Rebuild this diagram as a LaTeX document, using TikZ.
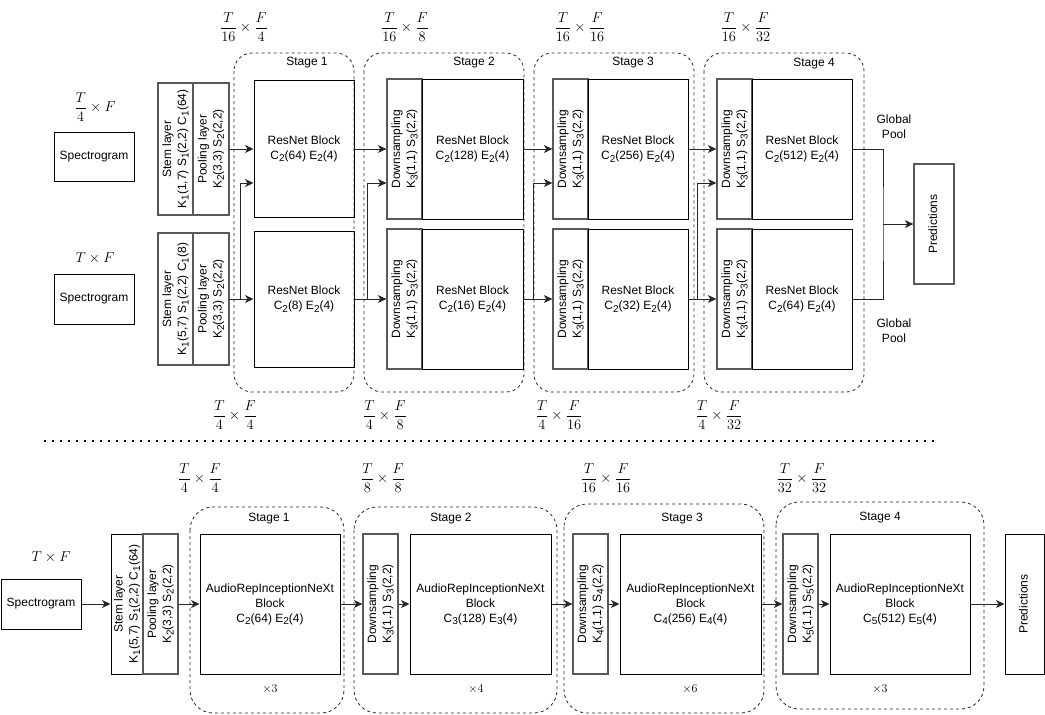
\documentclass[tikz,border=0pt]{standalone}
\usepackage[no-math]{fontspec}
\setmainfont{Liberation Sans}
\usepackage{graphicx}
\usetikzlibrary{arrows.meta,calc}
\newcommand{\sbx}[1]{\raisebox{-2.6pt}{\fontsize{10}{10}\selectfont #1}}
\newcommand{\vtxt}[1]{\rotatebox{90}{\begin{tabular}{@{}c@{}}#1\end{tabular}}}
\begin{document}
\begin{tikzpicture}[x=1pt,y=-1pt,
  font=\fontsize{12}{15}\selectfont,
  box/.style={draw=black, line width=1pt, inner sep=0pt, align=center},
  gbox/.style={draw=black!65, line width=1.3pt, inner sep=0pt, align=center},
  stagebox/.style={draw=black!85, line width=0.8pt, dash pattern=on 3pt off 3pt, rounded corners=18pt},
  stageboxb/.style={stagebox, rounded corners=23pt},
  arr/.style={-{Stealth[length=8.5pt,width=8pt,inset=2.5pt]}, line width=1pt, draw=black!85},
  ln/.style={line width=1pt, draw=black!85},
  mlab/.style={inner sep=0pt, font=\fontsize{15}{18}\selectfont},
  txt/.style={inner sep=0pt, align=center}
]
\useasboundingbox (0,0) rectangle (1045,715);

% ---------------- TOP ----------------
\draw[stagebox] (234,53) rectangle (354,392);
\draw[stagebox] (364,53) rectangle (524,392);
\draw[stagebox] (534,53) rectangle (694,392);
\draw[stagebox] (704,53) rectangle (864,392);
\node[txt] (st1) at (307,63) {Stage 1};
\node[txt] (st2) at (474,63) {Stage 2};
\node[txt] (st3) at (633,63) {Stage 3};
\node[txt] (st4) at (814,64) {Stage 4};

\node[mlab] (in1) at (95,107) {$\displaystyle\frac{T}{4}\times F$};
\node[mlab] (in2) at (95,258) {$T\times F$};
\node[mlab] (ta1) at (244,27) {$\displaystyle\frac{T}{16}\times\frac{F}{4}$};
\node[mlab] (ta2) at (405,27) {$\displaystyle\frac{T}{16}\times\frac{F}{8}$};
\node[mlab] (ta3) at (580,27) {$\displaystyle\frac{T}{16}\times\frac{F}{16}$};
\node[mlab] (ta4) at (746,27) {$\displaystyle\frac{T}{16}\times\frac{F}{32}$};
\node[mlab] (tb1) at (235,415) {$\displaystyle\frac{T}{4}\times\frac{F}{4}$};
\node[mlab] (tb2) at (385,415) {$\displaystyle\frac{T}{4}\times\frac{F}{8}$};
\node[mlab] (tb3) at (559,415) {$\displaystyle\frac{T}{4}\times\frac{F}{16}$};
\node[mlab] (tb4) at (719,415) {$\displaystyle\frac{T}{4}\times\frac{F}{32}$};

\node[box, minimum width=80pt, minimum height=49pt] (spec1) at (94,156.5) {Spectrogram};
\node[box, minimum width=80pt, minimum height=50pt] (spec2) at (94,299) {Spectrogram};

\node[gbox, minimum width=35pt, minimum height=132pt] (stem1) at (175.5,149) {\vtxt{Stem layer\\K\sbx{1}(1,7) S\sbx{1}(2,2) C\sbx{1}(64)}};
\node[gbox, minimum width=36pt, minimum height=132pt] (pool1) at (211,149) {\vtxt{Pooling layer\\K\sbx{2}(3,3) S\sbx{2}(2,2)}};
\node[gbox, minimum width=35pt, minimum height=132pt] (stem2) at (175.5,299) {\vtxt{Stem layer\\K\sbx{1}(5,7) S\sbx{1}(2,2) C\sbx{1}(8)}};
\node[gbox, minimum width=36pt, minimum height=132pt] (pool2) at (211,299) {\vtxt{Pooling layer\\K\sbx{2}(3,3) S\sbx{2}(2,2)}};

\node[box, minimum width=100pt, minimum height=137pt] (r1a) at (304,148.5) {ResNet Block\\C\sbx{2}(64) E\sbx{2}(4)};
\node[box, minimum width=100pt, minimum height=136pt] (r1b) at (304,299) {ResNet Block\\C\sbx{2}(8) E\sbx{2}(4)};

\node[gbox, minimum width=35pt, minimum height=140pt] (d2a) at (404.5,149) {\vtxt{Downsampling\\K\sbx{3}(1,1) S\sbx{3}(2,2)}};
\node[box, minimum width=101pt, minimum height=140pt] (r2a) at (472.5,149) {ResNet Block\\C\sbx{2}(128) E\sbx{2}(4)};
\node[gbox, minimum width=35pt, minimum height=140pt] (d2b) at (404.5,299) {\vtxt{Downsampling\\K\sbx{3}(1,1) S\sbx{3}(2,2)}};
\node[box, minimum width=101pt, minimum height=140pt] (r2b) at (472.5,299) {ResNet Block\\C\sbx{2}(16) E\sbx{2}(4)};

\node[gbox, minimum width=35pt, minimum height=140pt] (d3a) at (570.5,149) {\vtxt{Downsampling\\K\sbx{3}(1,1) S\sbx{3}(2,2)}};
\node[box, minimum width=100pt, minimum height=140pt] (r3a) at (638,149) {ResNet Block\\C\sbx{2}(256) E\sbx{2}(4)};
\node[gbox, minimum width=35pt, minimum height=140pt] (d3b) at (570.5,299) {\vtxt{Downsampling\\K\sbx{3}(1,1) S\sbx{3}(2,2)}};
\node[box, minimum width=100pt, minimum height=140pt] (r3b) at (638,299) {ResNet Block\\C\sbx{2}(32) E\sbx{2}(4)};

\node[gbox, minimum width=35pt, minimum height=140pt] (d4a) at (734.5,149) {\vtxt{Downsampling\\K\sbx{3}(1,1) S\sbx{3}(2,2)}};
\node[box, minimum width=100pt, minimum height=140pt] (r4a) at (802,149) {ResNet Block\\C\sbx{2}(512) E\sbx{2}(4)};
\node[gbox, minimum width=35pt, minimum height=140pt] (d4b) at (734.5,299) {\vtxt{Downsampling\\K\sbx{3}(1,1) S\sbx{3}(2,2)}};
\node[box, minimum width=100pt, minimum height=140pt] (r4b) at (802,299) {ResNet Block\\C\sbx{2}(64) E\sbx{2}(4)};

\node[gbox, minimum width=40pt, minimum height=120pt] (pred1) at (934,224) {\vtxt{Predictions}};
\node[txt] (gp1) at (894,126.5) {Global\\Pool};
\node[txt] (gp2) at (894,331) {Global\\Pool};

\draw[arr] (pool1.east) -- (pool1.east -| r1a.west);
\draw[arr] (pool2.east) -- (pool2.east -| r1b.west);
\coordinate (b1) at (240,299);
\draw[arr] (b1) |- (r1a.west |- 0,183);

\draw[arr] (r1a.east |- 0,149) -- (d2a.west);
\draw[arr] (r1b.east) -- (d2b.west);
\coordinate (b2) at (367,299);
\draw[arr] (b2) |- (d2a.west |- 0,183);

\draw[arr] (r2a.east) -- (d3a.west);
\draw[arr] (r2b.east) -- (d3b.west);
\coordinate (b3) at (533,299);
\draw[arr] (b3) |- (d3a.west |- 0,183);

\draw[arr] (r3a.east) -- (d4a.west);
\draw[arr] (r3b.east) -- (d4b.west);
\coordinate (b4) at (697,299);
\draw[arr] (b4) |- (d4a.west |- 0,183);

\coordinate (gj) at (883,224);
\draw[ln] (r4a.east) -| (gj) |- (r4b.east);
\draw[arr] (gj) -- (pred1.west);

\draw[line width=1.8pt, dash pattern=on 1.8pt off 6.2pt] (44,441) -- (934,441);

% ---------------- BOTTOM ----------------
\draw[stageboxb] (190,507) rectangle (344,713);
\draw[stageboxb] (354,507) rectangle (557,713);
\draw[stageboxb] (564,504) rectangle (764,713);
\draw[stageboxb] (776,502) rectangle (984,709);
\node[txt] (sb1) at (269,519) {Stage 1};
\node[txt] (sb2) at (451,519) {Stage 2};
\node[txt] (sb3) at (682,519) {Stage 3};
\node[txt] (sb4) at (880,518) {Stage 4};
\node[mlab] (rp1) at (270,689) {\fontsize{13}{14}\selectfont$\times3$};
\node[mlab] (rp2) at (476,689) {\fontsize{13}{14}\selectfont$\times4$};
\node[mlab] (rp3) at (690,689) {\fontsize{13}{14}\selectfont$\times6$};
\node[mlab] (rp4) at (880,689) {\fontsize{13}{14}\selectfont$\times3$};

\node[mlab] (inb) at (51,557) {$T\times F$};
\node[mlab] (tc1) at (200,478) {$\displaystyle\frac{T}{4}\times\frac{F}{4}$};
\node[mlab] (tc2) at (383,478) {$\displaystyle\frac{T}{8}\times\frac{F}{8}$};
\node[mlab] (tc3) at (606,478) {$\displaystyle\frac{T}{16}\times\frac{F}{16}$};
\node[mlab] (tc4) at (802,478) {$\displaystyle\frac{T}{32}\times\frac{F}{32}$};

\node[box, minimum width=80pt, minimum height=50pt] (specb) at (41,604) {Spectrogram};
\node[box, minimum width=32pt, minimum height=140pt] (stemb) at (127,604) {\vtxt{Stem layer\\K\sbx{1}(5,7) S\sbx{1}(2,2) C\sbx{1}(64)}};
\node[gbox, minimum width=35pt, minimum height=140pt] (poolb) at (160.5,604) {\vtxt{Pooling layer\\K\sbx{2}(3,3) S\sbx{2}(2,2)}};
\node[box, minimum width=140pt, minimum height=140pt] (bk1) at (270,604) {AudioRepInceptionNeXt\\Block\\C\sbx{2}(64) E\sbx{2}(4)};
\node[gbox, minimum width=35pt, minimum height=140pt] (dsb2) at (380.5,604) {\vtxt{Downsampling\\K\sbx{3}(1,1) S\sbx{3}(2,2)}};
\node[box, minimum width=141pt, minimum height=140pt] (bk2) at (480.5,604) {AudioRepInceptionNeXt\\Block\\C\sbx{3}(128) E\sbx{3}(4)};
\node[gbox, minimum width=35pt, minimum height=140pt] (dsb3) at (590.5,604) {\vtxt{Downsampling\\K\sbx{4}(1,1) S\sbx{4}(2,2)}};
\node[box, minimum width=141pt, minimum height=140pt] (bk3) at (690.5,604) {AudioRepInceptionNeXt\\Block\\C\sbx{4}(256) E\sbx{4}(4)};
\node[gbox, minimum width=35pt, minimum height=140pt] (dsb4) at (800.5,604) {\vtxt{Downsampling\\K\sbx{5}(1,1) S\sbx{5}(2,2)}};
\node[box, minimum width=140pt, minimum height=140pt] (bk4) at (900,604) {AudioRepInceptionNeXt\\Block\\C\sbx{5}(512) E\sbx{5}(4)};
\node[box, minimum width=39pt, minimum height=140pt] (predb) at (1024.5,604) {\vtxt{Predictions}};

\draw[arr] (specb) -- (stemb);
\draw[arr] (poolb) -- (bk1);
\draw[arr] (bk1) -- (dsb2);
\draw[arr] (dsb2) -- (bk2);
\draw[arr] (bk2) -- (dsb3);
\draw[arr] (dsb3) -- (bk3);
\draw[arr] (bk3) -- (dsb4);
\draw[arr] (dsb4) -- (bk4);
\draw[arr] (bk4) -- (predb);
\end{tikzpicture}
\end{document}
